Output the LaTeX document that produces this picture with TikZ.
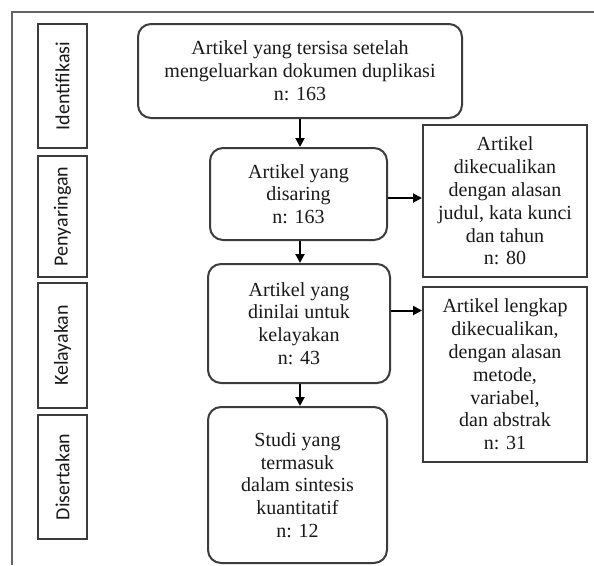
\documentclass[tikz,border=0pt]{standalone}
\usepackage{fontspec}
\setmainfont{Liberation Serif}
\newfontfamily\lblfont{Carlito}
\usetikzlibrary{arrows.meta,calc}
\definecolor{txt}{RGB}{25,25,25}
\definecolor{boxline}{RGB}{60,60,60}
\definecolor{frameline}{RGB}{100,100,100}
\tikzset{
  x=1pt,y=1pt,
  rbox/.style={draw=boxline,line width=2pt,rounded corners=13pt,inner sep=0pt,align=center,
    text=txt,font=\fontsize{20}{22.8}\selectfont},
  sbox/.style={draw=boxline,line width=2pt,inner sep=0pt,align=center,
    text=txt,font=\fontsize{20}{22.8}\selectfont},
  lbox/.style={draw=boxline,line width=2pt,inner sep=0pt,rotate=90,
    minimum height=49pt,text=txt,font=\lblfont\fontsize{20}{22}\selectfont},
  arr/.style={draw=black,line width=2pt,-{Triangle[length=9pt,width=9pt]}},
}
\begin{document}
\begin{tikzpicture}
\useasboundingbox (0,0) rectangle (594,-565);
\fill[white] (0,0) rectangle (594,-565);
% outer frame (top and left visible)
\coordinate (ftr) at (594,-12);
\coordinate (ftl) at (12,-12);
\coordinate (fbl) at (12,-565);
\draw[frameline,line width=2pt] (ftr) -- (ftl) -- (fbl);
% stage labels
\node[lbox,minimum width=124pt] (L1) at (62.5,-86) {Identifikasi};
\node[lbox,minimum width=121pt] (L2) at (62.5,-216.5) {Penyaringan};
\node[lbox,minimum width=125pt] (L3) at (62.5,-345.5) {Kelayakan};
\node[lbox,minimum width=124pt] (L4) at (62.5,-477) {Disertakan};
% main boxes
\node[rbox,minimum width=324pt,minimum height=94pt] (b1) at (300,-71)
  {Artikel yang tersisa setelah\\mengeluarkan dokumen duplikasi\\n: 163};
\node[rbox,minimum width=177pt,minimum height=92pt] (b2) at (298.5,-194)
  {Artikel yang\\disaring\\n: 163};
\node[rbox,minimum width=182pt,minimum height=119pt] (b3) at (299,-323.5)
  {Artikel yang\\dinilai untuk\\kelayakan\\n: 43};
\node[rbox,minimum width=179pt,minimum height=156pt] (b4) at (297.5,-485)
  {Studi yang\\termasuk\\dalam sintesis\\kuantitatif\\n: 12};
% exclusion boxes
\node[sbox,minimum width=164pt,minimum height=152pt] (r1) at (505,-201)
  {Artikel\\dikecualikan\\dengan alasan\\judul, kata kunci\\dan tahun\\n: 80};
\node[sbox,minimum width=164pt,minimum height=175pt] (r2) at (505,-374.5)
  {Artikel lengkap\\dikecualikan,\\dengan alasan\\metode,\\variabel,\\dan abstrak\\n: 31};
% arrows
\draw[arr] (b1.south) -- (b1.south |- b2.north);
\draw[arr] (b1.south |- b2.south) -- (b1.south |- b3.north);
\draw[arr] (b1.south |- b3.south) -- (b1.south |- b4.north);
\draw[arr] ([yshift=-4pt]b2.east) -- ([yshift=-4pt]b2.east -| r1.west);
\draw[arr] ([yshift=13pt]b3.east) -- ([yshift=13pt]b3.east -| r2.west);
\end{tikzpicture}
\end{document}
